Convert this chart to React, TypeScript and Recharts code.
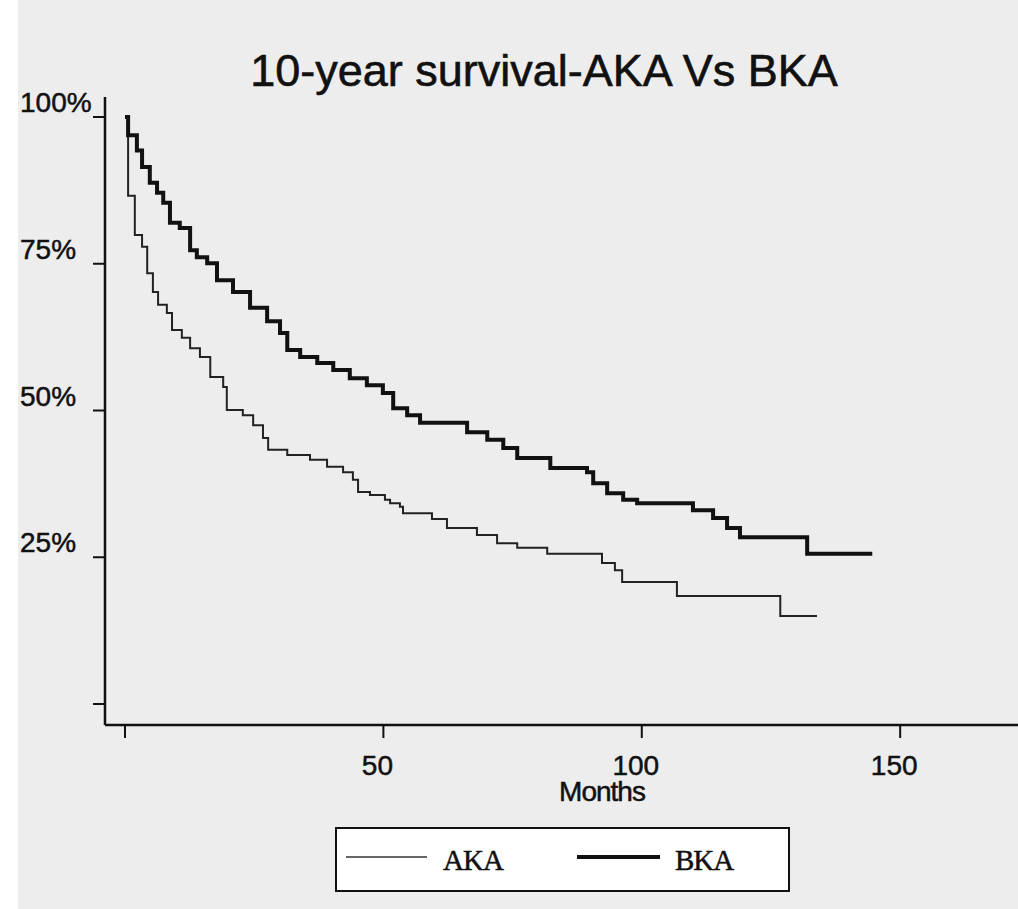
import { LineChart, Line, XAxis, YAxis, Legend } from "recharts";

// Kaplan-Meier steps (months, % surviving)
const akaMonths = [
  0, 0.6, 1.9, 3.3, 4.3, 5.4, 6.4, 8.1, 9.1, 11.0, 12.6, 14.5, 16.5, 19.0, 19.7, 22.8, 24.8, 26.7, 27.7, 31.4, 35.8,
  39.1, 42.2, 44.1, 45.1, 47.4, 50.3, 51.3, 53.2, 53.8, 59.4, 62.3, 68.1, 72.0, 75.9, 81.7, 92.3, 94.8, 96.2, 106.8,
  126.8, 133.9,
];
const akaSurvival = [
  100, 86.6, 79.9, 77.9, 73.4, 70.2, 68.0, 66.6, 63.7, 62.4, 60.6, 59.1, 55.7, 54.0, 50.1, 49.2, 47.5, 45.3, 43.3, 42.4,
  41.6, 40.4, 39.5, 38.2, 36.1, 35.6, 34.8, 34.2, 33.6, 32.5, 31.5, 30.0, 28.8, 27.4, 26.6, 25.6, 24.0, 22.8, 20.8, 18.4,
  15.0, 15.0,
];

const bkaMonths = [
  0, 0.6, 2.3, 3.3, 4.8, 6.2, 7.4, 8.7, 10.6, 12.6, 13.9, 15.9, 17.8, 20.9, 24.2, 27.5, 30.0, 31.4, 33.9, 37.2, 40.3,
  43.5, 46.8, 49.9, 51.9, 54.6, 57.1, 66.2, 70.1, 73.2, 75.9, 82.3, 89.4, 90.6, 93.3, 96.4, 99.1, 109.9, 113.8, 116.5,
  119.0, 132.0, 144.6,
];
const bkaSurvival = [
  100, 96.9, 94.3, 91.5, 88.8, 87.1, 85.4, 82.0, 81.1, 77.3, 76.1, 75.1, 72.2, 70.2, 67.5, 65.2, 63.2, 60.3, 59.1, 58.1,
  56.9, 55.5, 54.3, 53.0, 50.4, 49.2, 47.9, 46.3, 45.0, 43.6, 41.9, 40.2, 39.5, 37.6, 35.9, 34.8, 34.2, 33.0, 31.7, 30.0,
  28.4, 25.6, 25.6,
];

const monthTicks = [0, 50, 100, 150];
const percentTicks = [0, 25, 50, 75, 100];
const seriesNames = ["AKA", "BKA"];

const akaData = akaMonths.map((m, i) => ({ month: m, survival: akaSurvival[i] }));
const bkaData = bkaMonths.map((m, i) => ({ month: m, survival: bkaSurvival[i] }));

const INK = "#111";
const SANS = "'Liberation Sans', Arial, sans-serif";
const SERIF = "'Liberation Serif', 'Times New Roman', serif";

// scanned print looks a bit heavier than the plain font
const inked = { stroke: INK, strokeWidth: 0.5 };

function YTick({ y, payload }: any) {
  if (payload.value === 0) return <g />;
  return (
    <text x={20} y={y - 5} fontSize={28} fontFamily={SANS} fill={INK} {...inked}>
      {payload.value}%
    </text>
  );
}

function XTick({ x, y, payload }: any) {
  if (payload.value === 0) return <g />;
  return (
    <text x={x - 6} y={y + 35} fontSize={28} fontFamily={SANS} fill={INK} textAnchor="middle" {...inked}>
      {payload.value}
    </text>
  );
}

function LegendBox() {
  return (
    <div
      style={{
        width: 455,
        height: 65,
        boxSizing: "border-box",
        border: `2px solid ${INK}`,
        background: "#fff",
      }}
    >
      <svg width={451} height={61} style={{ display: "block" }}>
        <line x1={9} x2={90} y1={28} y2={28} stroke="#333" strokeWidth={1.6} />
        <text x={106} y={41} fontSize={29} fontFamily={SERIF} fill={INK} letterSpacing={-1} {...inked}>
          {seriesNames[0]}
        </text>
        <line x1={240} x2={323} y1={28} y2={28} stroke={INK} strokeWidth={4} />
        <text x={338} y={41} fontSize={29} fontFamily={SERIF} fill={INK} letterSpacing={-1} {...inked}>
          {seriesNames[1]}
        </text>
      </svg>
    </div>
  );
}

export default function App() {
  return (
    <div
      style={{
        position: "absolute",
        left: 0,
        top: 0,
        width: 1018,
        height: 909,
        background: "#ededed",
        overflow: "hidden",
      }}
    >
      <div style={{ position: "absolute", left: 0, top: 0, width: 18, height: 909, background: "#fff" }} />
      <div
        style={{
          position: "absolute",
          left: 0,
          width: 1088,
          top: 48,
          textAlign: "center",
          fontFamily: SANS,
          fontSize: 45,
          lineHeight: "45px",
          color: INK,
          WebkitTextStroke: "0.6px #111",
        }}
      >
        10-year survival-AKA Vs BKA
      </div>
      <LineChart width={1018} height={909} margin={{ top: 97, right: 0, bottom: 124, left: 20 }}>
        <XAxis
          type="number"
          dataKey="month"
          domain={[-3.87, 172.8]}
          ticks={monthTicks}
          allowDataOverflow
          height={60}
          tickSize={13}
          tick={<XTick />}
          axisLine={{ stroke: INK, strokeWidth: 2.5 }}
          tickLine={{ stroke: INK, strokeWidth: 2 }}
          label={{
            content: () => (
              <text
                x={602}
                y={801}
                fontSize={28}
                fontFamily={SANS}
                fill={INK}
                textAnchor="middle"
                letterSpacing={-1}
                {...inked}
              >
                Months
              </text>
            ),
          }}
        />
        <YAxis
          type="number"
          domain={[-3.58, 103.41]}
          ticks={percentTicks}
          allowDataOverflow
          width={85}
          tickSize={12}
          tick={<YTick />}
          axisLine={{ stroke: INK, strokeWidth: 2.5 }}
          tickLine={{ stroke: INK, strokeWidth: 2 }}
        />
        <Legend
          verticalAlign="middle"
          align="center"
          content={() => <LegendBox />}
          wrapperStyle={{ left: 335, top: 827, width: 455, height: 65 }}
        />
        <Line
          data={akaData}
          dataKey="survival"
          name={seriesNames[0]}
          type="stepAfter"
          stroke="#222"
          strokeWidth={2}
          dot={false}
          isAnimationActive={false}
        />
        <Line
          data={bkaData}
          dataKey="survival"
          name={seriesNames[1]}
          type="stepAfter"
          stroke={INK}
          strokeWidth={4}
          dot={false}
          isAnimationActive={false}
        />
      </LineChart>
    </div>
  );
}
